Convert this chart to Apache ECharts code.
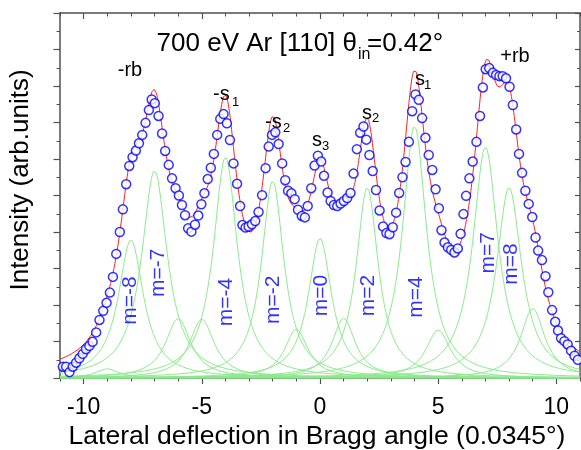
<!DOCTYPE html>
<html>
<head>
<meta charset="utf-8">
<script src="https://cdn.jsdelivr.net/npm/echarts@6/dist/echarts.min.js"></script>
<style>
html, body { margin: 0; padding: 0; background: #fff; }
#chart { width: 581px; height: 450px; }
</style>
</head>
<body>
<div id="chart"></div>
<script>
// diffraction orders of the fit and their fitted Lorentzian parameters
let orders = [-9, -8, -7, -6, -5, -4, -3, -2, -1, 0, 1, 2, 3, 4, 5, 6, 7, 8, 9];
let orderHeight = [0.25, 3.78, 5.68, 1.63, 1.61, 6.05, 0.05, 5.40, 1.34, 3.83, 1.64, 5.22, 0.05, 6.90, 1.31, 0.1, 6.33, 5.22, 1.91];
let orderHalfWidth = [0.6, 0.65, 0.66, 0.65, 0.64, 0.62, 0.6, 0.58, 0.6, 0.6, 0.6, 0.57, 0.6, 0.62, 0.64, 0.6, 0.65, 0.65, 0.62];

// measured intensity (blue circles)
let measured = [
  [-11.02, 0.51], [-10.88, 0.31], [-10.74, 0.31], [-10.60, 0.16], [-10.46, 0.31], [-10.32, 0.42],
  [-10.18, 0.54], [-10.04, 0.66], [-9.90, 0.79], [-9.76, 0.88], [-9.62, 0.99], [-9.47, 1.25],
  [-9.33, 1.59], [-9.17, 1.84], [-9.03, 2.06], [-8.89, 2.34], [-8.76, 2.77], [-8.62, 3.40],
  [-8.47, 4.00], [-8.34, 4.62], [-8.20, 5.31], [-8.07, 5.81], [-7.93, 6.05], [-7.79, 6.23],
  [-7.66, 6.43], [-7.52, 6.66], [-7.38, 6.99], [-7.24, 7.34], [-7.12, 7.63], [-6.99, 7.53],
  [-6.83, 7.18], [-6.68, 6.70], [-6.55, 6.22], [-6.40, 5.84], [-6.26, 5.47], [-6.11, 5.20],
  [-5.97, 5.00], [-5.84, 4.74], [-5.71, 4.46], [-5.58, 4.10], [-5.44, 4.01], [-5.29, 4.20],
  [-5.15, 4.45], [-5.02, 4.76], [-4.89, 5.06], [-4.75, 5.45], [-4.62, 5.76], [-4.49, 6.14],
  [-4.35, 6.66], [-4.22, 7.10], [-4.08, 7.23], [-3.94, 6.98], [-3.81, 6.52], [-3.66, 5.88],
  [-3.51, 5.32], [-3.38, 4.71], [-3.28, 4.19], [-3.15, 4.12], [-3.02, 4.15], [-2.88, 4.21],
  [-2.74, 4.30], [-2.60, 4.55], [-2.45, 5.01], [-2.30, 5.75], [-2.17, 6.34], [-2.03, 6.66],
  [-1.89, 6.73], [-1.75, 6.41], [-1.60, 5.88], [-1.47, 5.42], [-1.35, 5.13], [-1.21, 5.06],
  [-1.07, 4.90], [-0.93, 4.61], [-0.77, 4.44], [-0.64, 4.40], [-0.52, 4.71], [-0.37, 5.20],
  [-0.23, 5.82], [-0.09, 6.09], [0.05, 5.93], [0.17, 5.54], [0.32, 5.08], [0.45, 4.85],
  [0.59, 4.74], [0.73, 4.71], [0.87, 4.78], [1.01, 4.85], [1.15, 4.93], [1.29, 5.07],
  [1.42, 5.60], [1.56, 6.27], [1.70, 6.72], [1.84, 6.89], [1.96, 6.53], [2.09, 6.11],
  [2.23, 5.67], [2.37, 5.15], [2.52, 4.59], [2.67, 4.15], [2.81, 3.97], [2.94, 3.94],
  [3.08, 4.13], [3.22, 4.53], [3.35, 5.07], [3.49, 5.50], [3.62, 5.92], [3.76, 6.47],
  [3.90, 7.31], [4.04, 7.77], [4.18, 7.62], [4.32, 7.12], [4.46, 6.58], [4.60, 6.11],
  [4.75, 5.70], [4.89, 5.17], [5.03, 4.65], [5.14, 4.05], [5.27, 3.71], [5.41, 3.58],
  [5.55, 3.51], [5.69, 3.44], [5.83, 3.55], [5.95, 3.95], [6.07, 4.49], [6.18, 4.99],
  [6.32, 5.47], [6.46, 5.93], [6.62, 6.47], [6.77, 7.18], [6.89, 7.96], [7.01, 8.46],
  [7.16, 8.49], [7.31, 8.36], [7.45, 8.30], [7.59, 8.27], [7.73, 8.27], [7.87, 8.21],
  [8.02, 7.98], [8.16, 7.48], [8.30, 6.81], [8.42, 6.14], [8.55, 5.62], [8.69, 5.13],
  [8.83, 4.77], [8.98, 4.41], [9.12, 3.85], [9.23, 3.49], [9.39, 3.23], [9.54, 2.79],
  [9.66, 2.35], [9.82, 1.86], [9.95, 1.54], [10.07, 1.30], [10.20, 1.09], [10.34, 1.01],
  [10.48, 0.92], [10.62, 0.75], [10.77, 0.61], [10.91, 0.50]
];

// blue order labels
let orderLabels = ['m=-8', 'm=-7', 'm=-4', 'm=-2', 'm=0', 'm=2', 'm=4', 'm=7', 'm=8'];
let orderLabelX = [-8.03, -6.86, -3.95, -2.0, 0.05, 2.05, 4.05, 7.1, 8.1];
let orderLabelY = [2.12, 2.88, 2.08, 2.14, 2.26, 2.26, 2.22, 3.43, 3.12];

let xMajorTicks = [-10, -5, 0, 5, 10];

let FONT = '"Liberation Sans", Arial, sans-serif';

// sampling grid for drawing the fit curves
let xs = [];
for (let i = 0; i <= 1100; i++) xs.push(-11 + i * 0.02);

function component(k, x) {
  let d = (x - orders[k]) / orderHalfWidth[k];
  return orderHeight[k] / (1 + d * d);
}

let series = [];
for (let k = 0; k < orders.length; k++) {
  series.push({
    type: 'line',
    data: xs.map(x => [x, component(k, x)]),
    showSymbol: false,
    silent: true,
    z: 1,
    lineStyle: { color: '#8aea8a', width: 1 }
  });
}
series.push({
  type: 'line',
  data: xs.map(x => {
    let s = 0;
    for (let k = 0; k < orders.length; k++) s += component(k, x);
    return [x, s];
  }),
  showSymbol: false,
  silent: true,
  z: 2,
  lineStyle: { color: '#ff2020', width: 1 }
});
series.push({
  type: 'scatter',
  data: measured,
  symbol: 'circle',
  symbolSize: 9,
  z: 3,
  itemStyle: { color: '#ffffff', borderColor: '#0000ff', borderWidth: 1.5 }
});
series.push({
  type: 'scatter',
  data: orderLabels.map((t, i) => [orderLabelX[i], orderLabelY[i], t]),
  symbolSize: 0,
  z: 4,
  label: {
    show: true,
    position: 'inside',
    rotate: 90,
    formatter: p => p.value[2],
    color: '#0000ff',
    fontSize: 21,
    fontFamily: FONT
  }
});

function txt(x, y, text, size, align, rot) {
  return {
    type: 'text', x: x, y: y, z: 10, rotation: rot || 0,
    style: {
      text: text, fill: '#000', font: size + 'px ' + FONT,
      align: align || 'left', verticalAlign: 'middle',
      textAlign: align || 'left', textVerticalAlign: 'middle'
    }
  };
}

let chart = echarts.init(document.getElementById('chart'));
chart.setOption({
  animation: false,
  backgroundColor: '#fff',
  grid: { left: 60, right: 1, top: 13, bottom: 72 },
  xAxis: [{
    type: 'value', position: 'bottom', min: -11, max: 11,
    axisLine: { show: true, onZero: false, lineStyle: { color: '#505050', width: 1.5 } },
    axisTick: { show: true, inside: false, length: 6, customValues: xMajorTicks, lineStyle: { color: '#505050', width: 1.2 } },
    axisLabel: { show: true, customValues: xMajorTicks, fontSize: 23, color: '#000', fontFamily: FONT, margin: 18 },
    splitLine: { show: false }
  }, {
    type: 'value', position: 'bottom', min: -11, max: 11, interval: 1,
    axisLine: { show: false, onZero: false },
    axisTick: { show: true, inside: false, length: 3.5, lineStyle: { color: '#505050', width: 1 } },
    axisLabel: { show: false }, splitLine: { show: false }
  }, {
    type: 'value', position: 'top', min: -11, max: 11,
    axisLine: { show: true, onZero: false, lineStyle: { color: '#505050', width: 1.5 } },
    axisTick: { show: true, inside: true, length: 6, customValues: xMajorTicks, lineStyle: { color: '#505050', width: 1.2 } },
    axisLabel: { show: false }, splitLine: { show: false }
  }, {
    type: 'value', position: 'top', min: -11, max: 11, interval: 1,
    axisLine: { show: false, onZero: false },
    axisTick: { show: true, inside: true, length: 3.5, lineStyle: { color: '#505050', width: 1 } },
    axisLabel: { show: false }, splitLine: { show: false }
  }],
  yAxis: [{
    type: 'value', position: 'left', min: 0, max: 10, interval: 1,
    axisLine: { show: true, onZero: false, lineStyle: { color: '#505050', width: 1.5 } },
    axisTick: { show: true, inside: false, length: 6.5, lineStyle: { color: '#505050', width: 1.2 } },
    minorTick: { show: true, splitNumber: 2, length: 3.5, lineStyle: { color: '#505050', width: 1 } },
    axisLabel: { show: false },
    splitLine: { show: false }, minorSplitLine: { show: false }
  }, {
    type: 'value', position: 'right', min: 0, max: 10, interval: 1,
    axisLine: { show: true, onZero: false, lineStyle: { color: '#505050', width: 1.5 } },
    axisTick: { show: true, inside: true, length: 5, lineStyle: { color: '#505050', width: 1.2 } },
    minorTick: { show: true, splitNumber: 2, length: 3, lineStyle: { color: '#505050', width: 1 } },
    axisLabel: { show: false },
    splitLine: { show: false }, minorSplitLine: { show: false }
  }],
  series: series,
  graphic: [
    txt(21, 180, 'Intensity (arb.units)', 26, 'center', Math.PI / 2),
    txt(317, 437, 'Lateral deflection in Bragg angle (0.0345\u00b0)', 26.5, 'center'),
    txt(357, 44, '700 eV Ar [110] \u03b8', 26, 'right'),
    txt(358, 55, 'in', 16),
    txt(367, 44, '=0.42\u00b0', 26),
    txt(130, 70, '-rb', 20, 'center'),
    txt(213, 94, '-s', 20), txt(232, 102, '1', 13),
    txt(265, 122, '-s', 20), txt(283, 128, '2', 13),
    txt(312, 140, 's', 20), txt(322, 146, '3', 13),
    txt(362, 113, 's', 20), txt(372, 118, '2', 13),
    txt(415, 79, 's', 20), txt(424, 85, '1', 13),
    txt(515, 56, '+rb', 20, 'center')
  ]
});
</script>
</body>
</html>
